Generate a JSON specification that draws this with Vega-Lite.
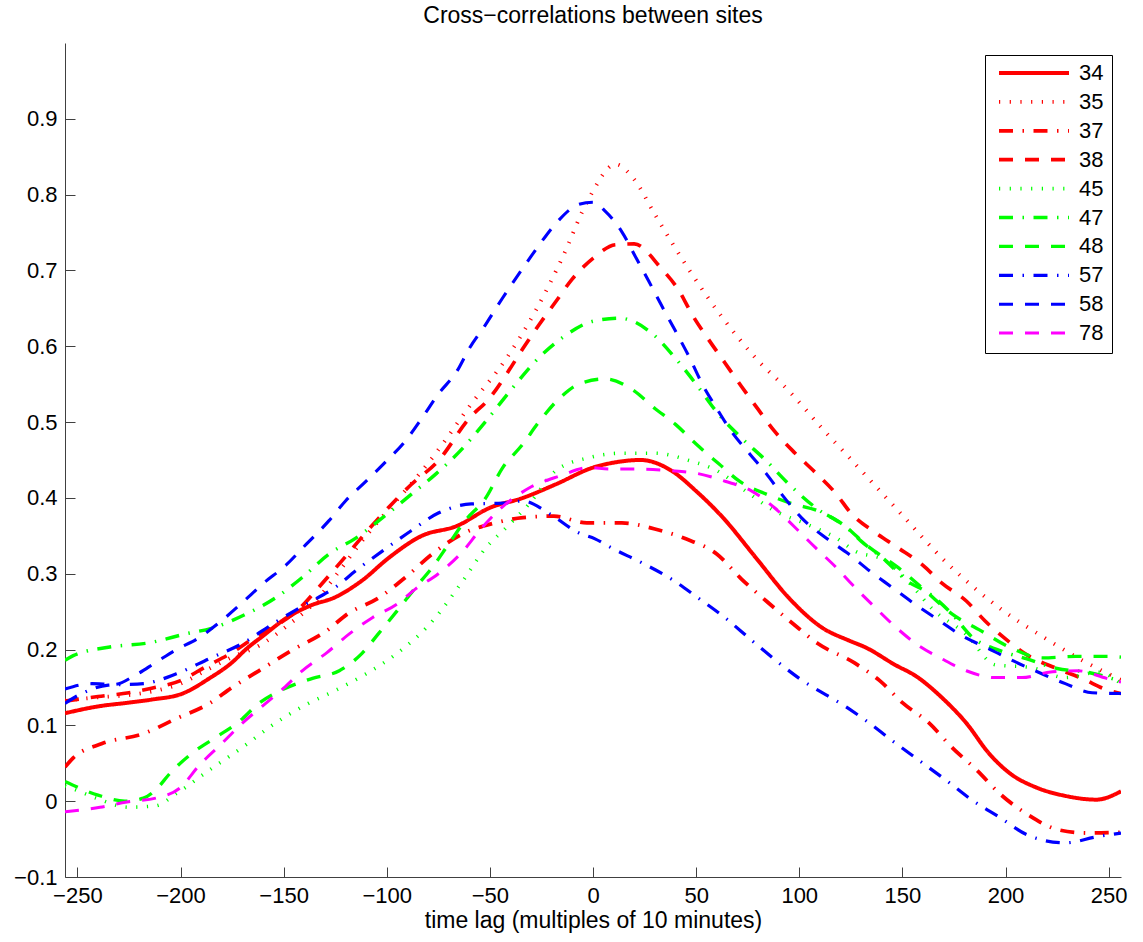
{
  "$schema": "https://vega.github.io/schema/vega-lite/v6.json",
  "width": 1056,
  "height": 834,
  "autosize": {"type": "none"},
  "padding": {"left": 65, "top": 43, "right": 22, "bottom": 65},
  "background": "white",
  "title": {"text": "Cross−correlations between sites", "fontSize": 23, "font": "Liberation Sans", "fontWeight": "normal", "color": "black", "anchor": "middle", "offset": 15},
  "config": {
    "view": {"stroke": null},
    "font": "Liberation Sans",
    "axis": {"grid": false, "domainColor": "#404040", "tickColor": "#404040", "tickSize": -10, "labelFontSize": 22, "labelColor": "black", "labelFont": "Liberation Sans", "titleFont": "Liberation Sans", "titleFontSize": 23, "titleFontWeight": "normal", "titleColor": "black"}
  },
  "datasets": {
    "cc": [
      {"site":"34","lag":-256,"r":0.116},{"site":"34","lag":-240,"r":0.125},{"site":"34","lag":-225,"r":0.130},{"site":"34","lag":-214,"r":0.134},{"site":"34","lag":-199,"r":0.142},{"site":"34","lag":-186,"r":0.162},{"site":"34","lag":-175,"r":0.183},{"site":"34","lag":-168,"r":0.201},{"site":"34","lag":-160,"r":0.218},{"site":"34","lag":-149,"r":0.241},{"site":"34","lag":-137,"r":0.258},{"site":"34","lag":-125,"r":0.269},{"site":"34","lag":-112,"r":0.291},{"site":"34","lag":-99,"r":0.321},{"site":"34","lag":-83,"r":0.350},{"site":"34","lag":-66,"r":0.363},{"site":"34","lag":-50,"r":0.387},{"site":"34","lag":-34,"r":0.400},{"site":"34","lag":-18,"r":0.418},{"site":"34","lag":0,"r":0.440},{"site":"34","lag":11,"r":0.447},{"site":"34","lag":23,"r":0.450},{"site":"34","lag":38,"r":0.436},{"site":"34","lag":50,"r":0.409},{"site":"34","lag":63,"r":0.374},{"site":"34","lag":79,"r":0.321},{"site":"34","lag":95,"r":0.268},{"site":"34","lag":111,"r":0.229},{"site":"34","lag":124,"r":0.212},{"site":"34","lag":132,"r":0.203},{"site":"34","lag":147,"r":0.179},{"site":"34","lag":156,"r":0.166},{"site":"34","lag":169,"r":0.137},{"site":"34","lag":181,"r":0.103},{"site":"34","lag":192,"r":0.063},{"site":"34","lag":202,"r":0.037},{"site":"34","lag":215,"r":0.018},{"site":"34","lag":229,"r":0.007},{"site":"34","lag":244,"r":0.002},{"site":"34","lag":256,"r":0.013},

      {"site":"35","lag":-256,"r":0.133},{"site":"35","lag":-240,"r":0.137},{"site":"35","lag":-225,"r":0.140},{"site":"35","lag":-210,"r":0.147},{"site":"35","lag":-200,"r":0.155},{"site":"35","lag":-188,"r":0.172},{"site":"35","lag":-175,"r":0.190},{"site":"35","lag":-162,"r":0.205},{"site":"35","lag":-147,"r":0.234},{"site":"35","lag":-135,"r":0.262},{"site":"35","lag":-124,"r":0.300},{"site":"35","lag":-110,"r":0.350},{"site":"35","lag":-100,"r":0.382},{"site":"35","lag":-89,"r":0.416},{"site":"35","lag":-79,"r":0.449},{"site":"35","lag":-59,"r":0.524},{"site":"35","lag":-42,"r":0.584},{"site":"35","lag":-28,"r":0.646},{"site":"35","lag":-15,"r":0.716},{"site":"35","lag":-2,"r":0.795},{"site":"35","lag":11,"r":0.840},{"site":"35","lag":20,"r":0.820},{"site":"35","lag":30,"r":0.774},{"site":"35","lag":47,"r":0.699},{"site":"35","lag":63,"r":0.637},{"site":"35","lag":79,"r":0.584},{"site":"35","lag":95,"r":0.541},{"site":"35","lag":111,"r":0.492},{"site":"35","lag":127,"r":0.445},{"site":"35","lag":148,"r":0.383},{"site":"35","lag":172,"r":0.313},{"site":"35","lag":197,"r":0.255},{"site":"35","lag":221,"r":0.212},{"site":"35","lag":237,"r":0.186},{"site":"35","lag":256,"r":0.160},

      {"site":"37","lag":-256,"r":0.045},{"site":"37","lag":-252,"r":0.057},{"site":"37","lag":-238,"r":0.076},{"site":"37","lag":-218,"r":0.089},{"site":"37","lag":-202,"r":0.109},{"site":"37","lag":-186,"r":0.129},{"site":"37","lag":-175,"r":0.150},{"site":"37","lag":-162,"r":0.172},{"site":"37","lag":-146,"r":0.199},{"site":"37","lag":-129,"r":0.225},{"site":"37","lag":-119,"r":0.247},{"site":"37","lag":-104,"r":0.268},{"site":"37","lag":-91,"r":0.295},{"site":"37","lag":-78,"r":0.326},{"site":"37","lag":-63,"r":0.353},{"site":"37","lag":-49,"r":0.366},{"site":"37","lag":-34,"r":0.374},{"site":"37","lag":-19,"r":0.376},{"site":"37","lag":-3,"r":0.367},{"site":"37","lag":14,"r":0.367},{"site":"37","lag":30,"r":0.359},{"site":"37","lag":45,"r":0.346},{"site":"37","lag":60,"r":0.326},{"site":"37","lag":72,"r":0.293},{"site":"37","lag":84,"r":0.264},{"site":"37","lag":97,"r":0.234},{"site":"37","lag":109,"r":0.208},{"site":"37","lag":127,"r":0.182},{"site":"37","lag":139,"r":0.159},{"site":"37","lag":150,"r":0.130},{"site":"37","lag":163,"r":0.103},{"site":"37","lag":174,"r":0.071},{"site":"37","lag":186,"r":0.041},{"site":"37","lag":198,"r":0.008},{"site":"37","lag":211,"r":-0.018},{"site":"37","lag":226,"r":-0.038},{"site":"37","lag":240,"r":-0.042},{"site":"37","lag":256,"r":-0.041},

      {"site":"38","lag":-256,"r":0.132},{"site":"38","lag":-240,"r":0.138},{"site":"38","lag":-225,"r":0.143},{"site":"38","lag":-214,"r":0.149},{"site":"38","lag":-200,"r":0.159},{"site":"38","lag":-188,"r":0.177},{"site":"38","lag":-175,"r":0.196},{"site":"38","lag":-164,"r":0.216},{"site":"38","lag":-150,"r":0.238},{"site":"38","lag":-142,"r":0.255},{"site":"38","lag":-133,"r":0.282},{"site":"38","lag":-124,"r":0.310},{"site":"38","lag":-105,"r":0.370},{"site":"38","lag":-88,"r":0.418},{"site":"38","lag":-75,"r":0.449},{"site":"38","lag":-60,"r":0.505},{"site":"38","lag":-50,"r":0.532},{"site":"38","lag":-42,"r":0.563},{"site":"38","lag":-34,"r":0.597},{"site":"38","lag":-26,"r":0.629},{"site":"38","lag":-18,"r":0.659},{"site":"38","lag":-10,"r":0.689},{"site":"38","lag":0,"r":0.716},{"site":"38","lag":11,"r":0.734},{"site":"38","lag":20,"r":0.735},{"site":"38","lag":33,"r":0.703},{"site":"38","lag":42,"r":0.672},{"site":"38","lag":48,"r":0.642},{"site":"38","lag":56,"r":0.609},{"site":"38","lag":64,"r":0.578},{"site":"38","lag":72,"r":0.547},{"site":"38","lag":80,"r":0.517},{"site":"38","lag":88,"r":0.488},{"site":"38","lag":98,"r":0.459},{"site":"38","lag":108,"r":0.433},{"site":"38","lag":118,"r":0.405},{"site":"38","lag":125,"r":0.380},{"site":"38","lag":137,"r":0.354},{"site":"38","lag":148,"r":0.334},{"site":"38","lag":160,"r":0.311},{"site":"38","lag":169,"r":0.288},{"site":"38","lag":181,"r":0.264},{"site":"38","lag":190,"r":0.238},{"site":"38","lag":200,"r":0.214},{"site":"38","lag":211,"r":0.192},{"site":"38","lag":224,"r":0.176},{"site":"38","lag":237,"r":0.162},{"site":"38","lag":250,"r":0.146},{"site":"38","lag":256,"r":0.142},

      {"site":"45","lag":-256,"r":0.020},{"site":"45","lag":-250,"r":0.014},{"site":"45","lag":-240,"r":0.003},{"site":"45","lag":-225,"r":-0.008},{"site":"45","lag":-212,"r":-0.006},{"site":"45","lag":-202,"r":0.010},{"site":"45","lag":-186,"r":0.041},{"site":"45","lag":-170,"r":0.071},{"site":"45","lag":-154,"r":0.103},{"site":"45","lag":-138,"r":0.129},{"site":"45","lag":-125,"r":0.146},{"site":"45","lag":-110,"r":0.168},{"site":"45","lag":-95,"r":0.195},{"site":"45","lag":-79,"r":0.234},{"site":"45","lag":-63,"r":0.291},{"site":"45","lag":-52,"r":0.334},{"site":"45","lag":-42,"r":0.361},{"site":"45","lag":-31,"r":0.392},{"site":"45","lag":-18,"r":0.436},{"site":"45","lag":-2,"r":0.453},{"site":"45","lag":14,"r":0.459},{"site":"45","lag":30,"r":0.459},{"site":"45","lag":47,"r":0.449},{"site":"45","lag":60,"r":0.436},{"site":"45","lag":74,"r":0.409},{"site":"45","lag":88,"r":0.383},{"site":"45","lag":103,"r":0.366},{"site":"45","lag":118,"r":0.347},{"site":"45","lag":127,"r":0.330},{"site":"45","lag":142,"r":0.317},{"site":"45","lag":156,"r":0.280},{"site":"45","lag":164,"r":0.255},{"site":"45","lag":181,"r":0.220},{"site":"45","lag":195,"r":0.180},{"site":"45","lag":213,"r":0.176},{"site":"45","lag":229,"r":0.163},{"site":"45","lag":245,"r":0.170},{"site":"45","lag":256,"r":0.155},

      {"site":"47","lag":-256,"r":0.186},{"site":"47","lag":-252,"r":0.192},{"site":"47","lag":-235,"r":0.203},{"site":"47","lag":-215,"r":0.209},{"site":"47","lag":-197,"r":0.221},{"site":"47","lag":-185,"r":0.228},{"site":"47","lag":-168,"r":0.247},{"site":"47","lag":-154,"r":0.268},{"site":"47","lag":-141,"r":0.295},{"site":"47","lag":-128,"r":0.326},{"site":"47","lag":-115,"r":0.347},{"site":"47","lag":-102,"r":0.374},{"site":"47","lag":-88,"r":0.405},{"site":"47","lag":-76,"r":0.432},{"site":"47","lag":-63,"r":0.466},{"site":"47","lag":-52,"r":0.501},{"site":"47","lag":-39,"r":0.545},{"site":"47","lag":-28,"r":0.580},{"site":"47","lag":-15,"r":0.611},{"site":"47","lag":0,"r":0.633},{"site":"47","lag":13,"r":0.637},{"site":"47","lag":29,"r":0.616},{"site":"47","lag":40,"r":0.584},{"site":"47","lag":50,"r":0.550},{"site":"47","lag":61,"r":0.510},{"site":"47","lag":72,"r":0.479},{"site":"47","lag":84,"r":0.449},{"site":"47","lag":95,"r":0.418},{"site":"47","lag":108,"r":0.387},{"site":"47","lag":123,"r":0.361},{"site":"47","lag":130,"r":0.343},{"site":"47","lag":142,"r":0.317},{"site":"47","lag":152,"r":0.291},{"site":"47","lag":163,"r":0.274},{"site":"47","lag":174,"r":0.247},{"site":"47","lag":184,"r":0.216},{"site":"47","lag":197,"r":0.199},{"site":"47","lag":210,"r":0.188},{"site":"47","lag":225,"r":0.175},{"site":"47","lag":240,"r":0.170},{"site":"47","lag":256,"r":0.158},

      {"site":"48","lag":-256,"r":0.026},{"site":"48","lag":-240,"r":0.008},{"site":"48","lag":-227,"r":0.000},{"site":"48","lag":-218,"r":0.004},{"site":"48","lag":-212,"r":0.015},{"site":"48","lag":-205,"r":0.037},{"site":"48","lag":-194,"r":0.064},{"site":"48","lag":-183,"r":0.084},{"site":"48","lag":-172,"r":0.104},{"site":"48","lag":-162,"r":0.129},{"site":"48","lag":-149,"r":0.149},{"site":"48","lag":-136,"r":0.162},{"site":"48","lag":-123,"r":0.172},{"site":"48","lag":-112,"r":0.195},{"site":"48","lag":-104,"r":0.221},{"site":"48","lag":-95,"r":0.251},{"site":"48","lag":-86,"r":0.282},{"site":"48","lag":-78,"r":0.308},{"site":"48","lag":-70,"r":0.339},{"site":"48","lag":-62,"r":0.370},{"site":"48","lag":-52,"r":0.400},{"site":"48","lag":-44,"r":0.439},{"site":"48","lag":-34,"r":0.471},{"site":"48","lag":-26,"r":0.501},{"site":"48","lag":-16,"r":0.532},{"site":"48","lag":-7,"r":0.550},{"site":"48","lag":6,"r":0.557},{"site":"48","lag":19,"r":0.543},{"site":"48","lag":30,"r":0.518},{"site":"48","lag":40,"r":0.497},{"site":"48","lag":50,"r":0.471},{"site":"48","lag":61,"r":0.445},{"site":"48","lag":71,"r":0.422},{"site":"48","lag":84,"r":0.405},{"site":"48","lag":97,"r":0.392},{"site":"48","lag":109,"r":0.383},{"site":"48","lag":123,"r":0.361},{"site":"48","lag":132,"r":0.339},{"site":"48","lag":148,"r":0.308},{"site":"48","lag":161,"r":0.278},{"site":"48","lag":174,"r":0.247},{"site":"48","lag":188,"r":0.225},{"site":"48","lag":202,"r":0.203},{"site":"48","lag":218,"r":0.189},{"site":"48","lag":234,"r":0.191},{"site":"48","lag":249,"r":0.191},{"site":"48","lag":256,"r":0.190},

      {"site":"57","lag":-256,"r":0.129},{"site":"57","lag":-250,"r":0.139},{"site":"57","lag":-235,"r":0.153},{"site":"57","lag":-218,"r":0.155},{"site":"57","lag":-202,"r":0.168},{"site":"57","lag":-186,"r":0.188},{"site":"57","lag":-170,"r":0.208},{"site":"57","lag":-154,"r":0.236},{"site":"57","lag":-139,"r":0.260},{"site":"57","lag":-125,"r":0.282},{"site":"57","lag":-115,"r":0.304},{"site":"57","lag":-100,"r":0.334},{"site":"57","lag":-88,"r":0.357},{"site":"57","lag":-75,"r":0.380},{"site":"57","lag":-59,"r":0.392},{"site":"57","lag":-44,"r":0.393},{"site":"57","lag":-34,"r":0.396},{"site":"57","lag":-21,"r":0.379},{"site":"57","lag":-7,"r":0.354},{"site":"57","lag":1,"r":0.346},{"site":"57","lag":9,"r":0.334},{"site":"57","lag":24,"r":0.314},{"site":"57","lag":38,"r":0.293},{"site":"57","lag":51,"r":0.268},{"site":"57","lag":64,"r":0.242},{"site":"57","lag":77,"r":0.212},{"site":"57","lag":100,"r":0.162},{"site":"57","lag":124,"r":0.122},{"site":"57","lag":132,"r":0.107},{"site":"57","lag":145,"r":0.080},{"site":"57","lag":158,"r":0.054},{"site":"57","lag":171,"r":0.028},{"site":"57","lag":184,"r":0.001},{"site":"57","lag":197,"r":-0.021},{"site":"57","lag":211,"r":-0.045},{"site":"57","lag":229,"r":-0.055},{"site":"57","lag":244,"r":-0.047},{"site":"57","lag":256,"r":-0.042},

      {"site":"58","lag":-256,"r":0.148},{"site":"58","lag":-243,"r":0.155},{"site":"58","lag":-232,"r":0.154},{"site":"58","lag":-222,"r":0.166},{"site":"58","lag":-212,"r":0.183},{"site":"58","lag":-202,"r":0.200},{"site":"58","lag":-192,"r":0.214},{"site":"58","lag":-181,"r":0.236},{"site":"58","lag":-170,"r":0.262},{"site":"58","lag":-160,"r":0.287},{"site":"58","lag":-149,"r":0.311},{"site":"58","lag":-139,"r":0.339},{"site":"58","lag":-128,"r":0.370},{"site":"58","lag":-120,"r":0.396},{"site":"58","lag":-110,"r":0.422},{"site":"58","lag":-100,"r":0.449},{"site":"58","lag":-91,"r":0.475},{"site":"58","lag":-83,"r":0.505},{"site":"58","lag":-75,"r":0.537},{"site":"58","lag":-66,"r":0.567},{"site":"58","lag":-60,"r":0.597},{"site":"58","lag":-52,"r":0.629},{"site":"58","lag":-44,"r":0.663},{"site":"58","lag":-34,"r":0.703},{"site":"58","lag":-26,"r":0.734},{"site":"58","lag":-18,"r":0.762},{"site":"58","lag":-7,"r":0.787},{"site":"58","lag":0,"r":0.790},{"site":"58","lag":6,"r":0.778},{"site":"58","lag":14,"r":0.751},{"site":"58","lag":21,"r":0.716},{"site":"58","lag":27,"r":0.686},{"site":"58","lag":33,"r":0.655},{"site":"58","lag":40,"r":0.620},{"site":"58","lag":47,"r":0.584},{"site":"58","lag":53,"r":0.550},{"site":"58","lag":60,"r":0.518},{"site":"58","lag":67,"r":0.488},{"site":"58","lag":76,"r":0.458},{"site":"58","lag":84,"r":0.432},{"site":"58","lag":92,"r":0.403},{"site":"58","lag":101,"r":0.374},{"site":"58","lag":113,"r":0.347},{"site":"58","lag":124,"r":0.326},{"site":"58","lag":134,"r":0.304},{"site":"58","lag":145,"r":0.282},{"site":"58","lag":156,"r":0.260},{"site":"58","lag":168,"r":0.238},{"site":"58","lag":179,"r":0.218},{"site":"58","lag":192,"r":0.201},{"site":"58","lag":203,"r":0.186},{"site":"58","lag":216,"r":0.170},{"site":"58","lag":229,"r":0.155},{"site":"58","lag":242,"r":0.143},{"site":"58","lag":256,"r":0.142},

      {"site":"78","lag":-256,"r":-0.014},{"site":"78","lag":-239,"r":-0.008},{"site":"78","lag":-226,"r":-0.001},{"site":"78","lag":-212,"r":0.004},{"site":"78","lag":-200,"r":0.018},{"site":"78","lag":-191,"r":0.047},{"site":"78","lag":-180,"r":0.076},{"site":"78","lag":-170,"r":0.103},{"site":"78","lag":-160,"r":0.126},{"site":"78","lag":-150,"r":0.149},{"site":"78","lag":-141,"r":0.172},{"site":"78","lag":-129,"r":0.196},{"site":"78","lag":-118,"r":0.221},{"site":"78","lag":-107,"r":0.242},{"site":"78","lag":-95,"r":0.260},{"site":"78","lag":-86,"r":0.280},{"site":"78","lag":-75,"r":0.300},{"site":"78","lag":-63,"r":0.330},{"site":"78","lag":-55,"r":0.357},{"site":"78","lag":-46,"r":0.383},{"site":"78","lag":-31,"r":0.413},{"site":"78","lag":-16,"r":0.429},{"site":"78","lag":-2,"r":0.440},{"site":"78","lag":8,"r":0.438},{"site":"78","lag":22,"r":0.438},{"site":"78","lag":37,"r":0.436},{"site":"78","lag":51,"r":0.432},{"site":"78","lag":64,"r":0.422},{"site":"78","lag":77,"r":0.409},{"site":"78","lag":88,"r":0.387},{"site":"78","lag":98,"r":0.361},{"site":"78","lag":108,"r":0.334},{"site":"78","lag":118,"r":0.308},{"site":"78","lag":127,"r":0.282},{"site":"78","lag":137,"r":0.255},{"site":"78","lag":147,"r":0.229},{"site":"78","lag":158,"r":0.205},{"site":"78","lag":169,"r":0.188},{"site":"78","lag":181,"r":0.172},{"site":"78","lag":195,"r":0.163},{"site":"78","lag":208,"r":0.163},{"site":"78","lag":221,"r":0.170},{"site":"78","lag":235,"r":0.172},{"site":"78","lag":249,"r":0.162},{"site":"78","lag":256,"r":0.157}
    ]
  },
  "layer": [
    {
      "data": {"name": "cc"},
      "mark": {"type": "line", "interpolate": "monotone", "clip": true},
      "encoding": {
        "x": {"field": "lag", "type": "quantitative", "scale": {"domain": [-256, 256], "nice": false, "zero": false},
              "axis": {"title": "time lag (multiples of 10 minutes)", "values": [-250,-200,-150,-100,-50,0,50,100,150,200,250], "labelPadding": 18, "titlePadding": 3}},
        "y": {"field": "r", "type": "quantitative", "scale": {"domain": [-0.1, 1.0], "nice": false, "zero": false},
              "axis": {"title": null, "values": [-0.1,0,0.1,0.2,0.3,0.4,0.5,0.6,0.7,0.8,0.9], "format": ".1~f", "labelPadding": 18}},
        "color": {"field": "site", "type": "nominal",
                  "scale": {"domain": ["34","35","37","38","45","47","48","57","58","78"],
                            "range": ["#ff0000","#ff0000","#ff0000","#ff0000","#00ff00","#00ff00","#00ff00","#0000ff","#0000ff","#ff00ff"]},
                  "legend": {"title": null, "orient": "none", "legendX": 920, "legendY": 12, "symbolType": "stroke", "symbolSize": 4900, "symbolOffset": 4, "clipHeight": 20, "rowPadding": 6.9, "labelFontSize": 22, "labelFont": "Liberation Sans", "labelColor": "black", "labelOffset": 8, "padding": 8, "strokeColor": "black", "fillColor": "white", "cornerRadius": 0}},
        "strokeDash": {"field": "site", "type": "nominal",
                  "scale": {"domain": ["34","35","37","38","45","47","48","57","58","78"],
                            "range": [[1,0],[1.2,9.5],[14,9.5,1.5,9.5],[14,12],[1.2,9.5],[14,9.5,1.5,9.5],[14,12],[14,9.5,1.5,9.5],[14,12],[14,12]]},
                  "legend": {"title": null}},
        "strokeWidth": {"field": "site", "type": "nominal",
                  "scale": {"domain": ["34","35","37","38","45","47","48","57","58","78"],
                            "range": [4,3,4,4,3,4,4,4,4,4]},
                  "legend": {"title": null}}
      }
    },
    {
      "mark": {"type": "rule", "color": "black", "strokeWidth": 1},
      "encoding": {"x": {"datum": 0}}
    },
    {
      "mark": {"type": "rule", "color": "black", "strokeWidth": 1},
      "encoding": {"y": {"datum": 0}}
    }
  ]
}
